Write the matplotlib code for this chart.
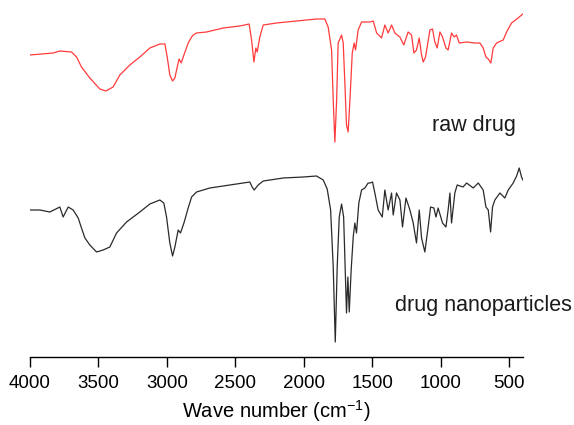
import numpy as np
import matplotlib.pyplot as plt

plt.rcParams['font.family'] = ['Liberation Sans', 'DejaVu Sans']
plt.rcParams['mathtext.fontset'] = 'custom'
plt.rcParams['mathtext.rm'] = 'Liberation Sans'
plt.rcParams['mathtext.it'] = 'Liberation Sans'

# FTIR spectra, values (arbitrary transmittance units)
wn_raw = [4000, 3830, 3781, 3696, 3659, 3623, 3562, 3489, 3445, 3392, 3343, 3270,
          3197, 3124, 3051, 3014, 2997, 2978, 2958, 2941, 2924, 2910, 2895, 2880,
          2844, 2819, 2807, 2783, 2710, 2588, 2467, 2399, 2381, 2364, 2350, 2340,
          2321, 2296, 2199, 2053, 1907, 1846, 1822, 1797, 1785, 1773, 1760, 1749,
          1724, 1712, 1700, 1688, 1676, 1663, 1646, 1632, 1622, 1603, 1578, 1517,
          1493, 1468, 1432, 1408, 1384, 1359, 1335, 1298, 1270, 1238, 1213, 1196,
          1177, 1157, 1140, 1128, 1111, 1079, 1060, 1043, 1026, 1006, 987, 962,
          946, 921, 902, 885, 865, 811, 751, 714, 690, 670, 653, 634, 617, 592,
          544, 519, 483, 435, 410, 400]
t_raw = [302, 304, 306, 305, 300, 290, 279, 268, 266, 270, 282, 292,
         300, 309, 313, 313, 300, 282, 276, 279, 290, 298, 294, 300,
         314, 320, 322, 324, 325, 329, 331, 333, 317, 295, 309, 305,
         320, 332, 334, 336, 338, 338, 330, 307, 257, 215, 257, 314,
         322, 314, 274, 232, 225, 257, 304, 314, 307, 327, 335, 335,
         336, 324, 319, 332, 324, 332, 324, 320, 312, 325, 322, 304,
         307, 319, 302, 295, 300, 327, 328, 315, 309, 325, 320, 309,
         307, 324, 320, 322, 314, 315, 314, 314, 309, 300, 298, 294, 309, 314,
         317, 325, 334, 339, 342, 343]

wn_nano = [4000, 3927, 3854, 3781, 3757, 3720, 3684, 3647, 3623, 3598, 3562, 3513,
           3465, 3416, 3367, 3294, 3197, 3124, 3051, 3022, 3002, 2978, 2958, 2941,
           2917, 2900, 2875, 2844, 2819, 2783, 2686, 2540, 2394, 2377, 2362, 2333,
           2296, 2150, 2004, 1907, 1858, 1829, 1804, 1785, 1770, 1756, 1741, 1724,
           1709, 1698, 1688, 1678, 1668, 1654, 1639, 1627, 1615, 1598, 1578, 1554,
           1530, 1517, 1498, 1481, 1457, 1427, 1408, 1384, 1359, 1347, 1323, 1298,
           1279, 1254, 1225, 1201, 1177, 1157, 1140, 1116, 1092, 1074, 1050, 1035,
           1019, 987, 962, 946, 933, 921, 897, 880, 837, 811, 763, 726, 690, 670,
           653, 636, 622, 605, 568, 532, 507, 471, 446, 427, 410, 400]
t_nano = [147, 147, 145, 150, 140, 150, 147, 139, 129, 119, 112, 105,
          107, 110, 124, 135, 145, 153, 157, 154, 140, 114, 101, 110,
          127, 124, 134, 149, 160, 165, 169, 172, 175, 170, 167, 172,
          176, 179, 180, 181, 177, 168, 147, 90, 15, 90, 140, 153,
          140, 90, 44, 80, 45, 87, 120, 134, 124, 154, 167, 169,
          174, 174, 175, 164, 147, 140, 167, 147, 164, 142, 164, 157,
          130, 159, 147, 134, 114, 147, 119, 105, 130, 150, 149, 140,
          149, 134, 130, 147, 164, 134, 164, 172, 170, 174, 169, 174, 167, 150,
          147, 125, 150, 157, 164, 159, 167, 174, 181, 189, 180, 177]

fig = plt.figure(figsize=(5.74, 4.25), dpi=100)
ax = fig.add_axes([0.052, 0.16, 0.859, 0.84])

ax.plot(wn_raw, t_raw, color='#ff3b3b', lw=0.9)
ax.plot(wn_nano, t_nano, color='#2a2a2a', lw=0.9)

ax.set_xlim(4000, 400)
ax.set_ylim(0, 357)
ax.set_xticks([4000, 3500, 3000, 2500, 2000, 1500, 1000, 500])
ax.tick_params(axis='x', direction='out', length=7, width=1, labelsize=13.5, pad=6)
ax.set_yticks([])
for s in ['top', 'left', 'right']:
    ax.spines[s].set_visible(False)
ax.spines['bottom'].set_linewidth(1)

ax.set_xlabel('Wave number (cm$^{-1}$)', fontsize=14.5, labelpad=4)

ax.text(1065, 232, 'raw drug', fontsize=15.5, ha='left', va='center', color='#1a1a1a')
ax.text(1335, 52, 'drug nanoparticles', fontsize=15.5, ha='left', va='center',
        color='#1a1a1a', clip_on=False)

fig.savefig('out.png', dpi=100)
